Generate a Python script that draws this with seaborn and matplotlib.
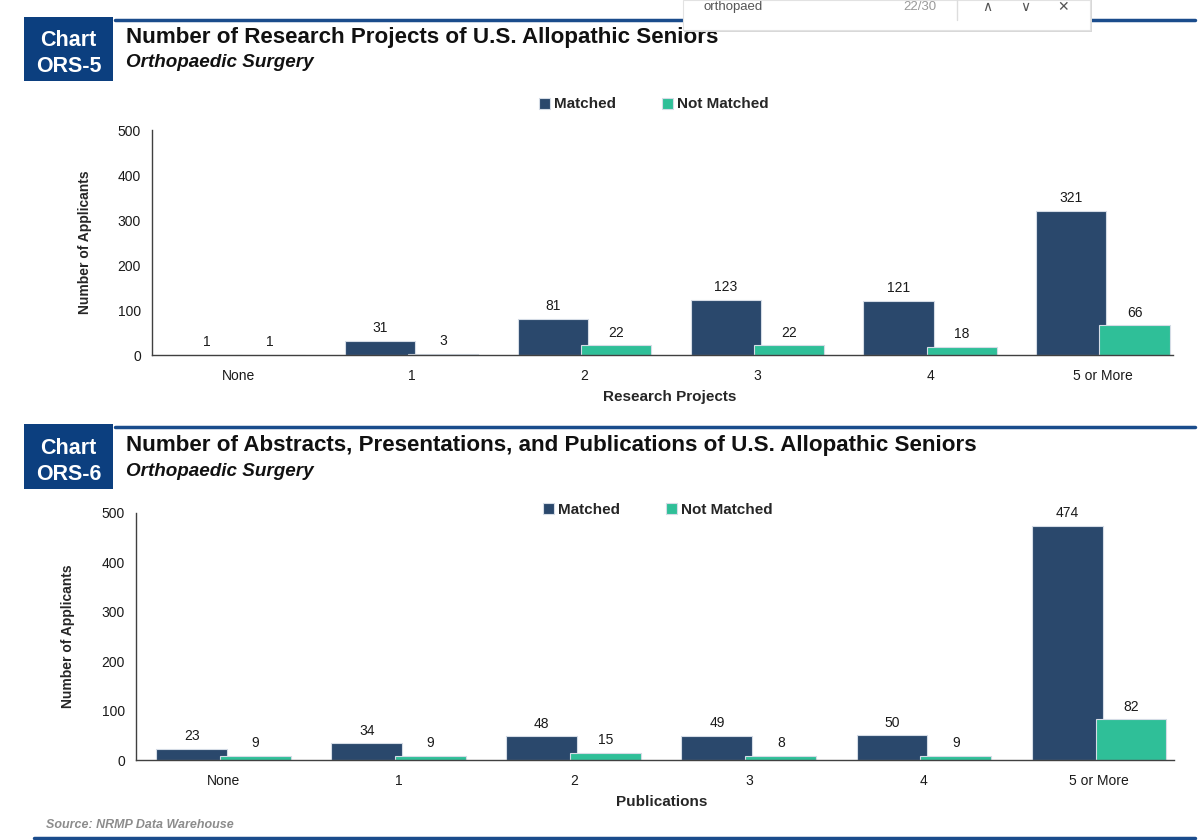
import matplotlib
matplotlib.use("Agg")
import matplotlib.pyplot as plt
from matplotlib.patches import Rectangle
from matplotlib.lines import Line2D
import seaborn as sns
import pandas as pd

# ---------------- data ----------------
categories = ["None", "1", "2", "3", "4", "5 or More"]
series_names = ["Matched", "Not Matched"]
research_matched = [1, 31, 81, 123, 121, 321]
research_not_matched = [1, 3, 22, 22, 18, 66]
pubs_matched = [23, 34, 48, 49, 50, 474]
pubs_not_matched = [9, 9, 15, 8, 9, 82]
y_ticks = [0, 100, 200, 300, 400, 500]

title1 = "Number of Research Projects of U.S. Allopathic Seniors"
title2 = "Number of Abstracts, Presentations, and Publications of U.S. Allopathic Seniors"
subtitle = "Orthopaedic Surgery"
xlabel1 = "Research Projects"
xlabel2 = "Publications"
ylabel = "Number of Applicants"
source = "Source: NRMP Data Warehouse"

NAVY = "#2A486C"
TEAL = "#2FBF98"
BOX = "#0C3F7F"
LINE = "#1A4C8C"
AX = "#404040"

sns.set_theme(style="white")
plt.rcParams["font.family"] = ["Liberation Sans", "DejaVu Sans"]

W, H = 1200, 840
fig = plt.figure(figsize=(12, 8.4), dpi=100)
fig.patch.set_facecolor("white")


def fx(px):
    return px / W


def fy(py):
    return 1 - py / H


def make_df(m, nm):
    return pd.DataFrame({
        "cat": categories * 2,
        "n": list(m) + list(nm),
        "status": [series_names[0]] * len(categories) + [series_names[1]] * len(categories),
    })


def draw_chart(ax, df, xlabel, xr, xlab_pos, ylab_x, leg_pos):
    sns.barplot(data=df, x="cat", y="n", hue="status", order=categories,
                hue_order=series_names, palette=[NAVY, TEAL], width=0.73,
                errorbar=None, edgecolor="#d5dce6", linewidth=0.8, ax=ax,
                saturation=1)
    bw = 0.405
    for cont in ax.containers:
        for p in cont:
            c = p.get_x() + p.get_width() / 2
            p.set_width(bw)
            p.set_x(c - bw / 2)
        ax.bar_label(cont, padding=4, fontsize=10, color="#1a1a1a")
    ax.set_xlim(-0.5, xr)
    ax.set_ylim(0, 500)
    ax.set_yticks(y_ticks)
    ax.set_xlabel(xlabel, fontsize=11, fontweight="bold", va="center")
    ax.set_ylabel(ylabel, fontsize=10, fontweight="bold", va="center")
    ax.xaxis.set_label_coords(*xlab_pos)
    ax.yaxis.set_label_coords(ylab_x, 0.5)
    for s in ["top", "right"]:
        ax.spines[s].set_visible(False)
    for s in ["left", "bottom"]:
        ax.spines[s].set_color(AX)
        ax.spines[s].set_linewidth(1.0)
    ax.tick_params(axis="x", length=0, pad=10, labelsize=10, labelcolor="#1a1a1a")
    ax.tick_params(axis="y", length=0, pad=8, labelsize=10, labelcolor="#1a1a1a")
    sns.move_legend(ax, loc="center", bbox_to_anchor=leg_pos,
                    bbox_transform=fig.transFigure, ncol=2, frameon=False,
                    title=None, fontsize=11, handlelength=0.7, handleheight=0.7,
                    handletextpad=0.3, columnspacing=3.0)
    for t in ax.get_legend().get_texts():
        t.set_fontweight("bold")


ax1 = fig.add_axes([fx(152), fy(355), fx(1173) - fx(152), 225 / H])
draw_chart(ax1, make_df(research_matched, research_not_matched), xlabel1,
           -0.5 + 1021 / 172.9, (0.507, -0.186), -0.066, (fx(654), fy(104.5)))

ax2 = fig.add_axes([fx(136), fy(760), fx(1174) - fx(136), 247 / H])
draw_chart(ax2, make_df(pubs_matched, pubs_not_matched), xlabel2,
           -0.5 + 1038 / 175.1, (0.506, -0.171), -0.0655, (fx(658), fy(509.5)))


def header(box_top, box_bot, line_y, title, num, t_y, s_y, c1_y, c2_y):
    fig.patches.append(Rectangle((fx(24), fy(box_bot)), fx(113) - fx(24),
                                 (box_bot - box_top) / H, transform=fig.transFigure,
                                 facecolor=BOX, edgecolor="none", zorder=1))
    fig.lines.append(Line2D([fx(115), fx(1195)], [fy(line_y)] * 2, transform=fig.transFigure,
                            color=LINE, lw=2.5, zorder=1))
    fig.text(fx(68.5), fy(c1_y), "Chart", color="white", fontsize=15.5,
             fontweight="bold", ha="center", va="center", zorder=2)
    fig.text(fx(68.5), fy(c2_y), num, color="white", fontsize=15.5,
             fontweight="bold", ha="center", va="center", zorder=2)
    fig.text(fx(126), fy(t_y), title, fontsize=16.1, fontweight="bold",
             color="#111111", ha="left", va="center", zorder=2)
    fig.text(fx(126), fy(s_y), subtitle, fontsize=13.6, fontweight="bold",
             fontstyle="italic", color="#111111", ha="left", va="center", zorder=2)


header(16.7, 80.7, 20, title1, "ORS-5", 38, 62.5, 41, 66)
header(424, 489, 426.5, title2, "ORS-6", 446, 471.5, 449, 474)

fig.text(fx(46), fy(825), source, fontsize=9, fontweight="bold", fontstyle="italic",
         color="#8c8c8c", ha="left", va="center")
fig.lines.append(Line2D([fx(34), fx(1195)], [fy(838)] * 2, transform=fig.transFigure,
                        color=LINE, lw=2.5, zorder=1))

# browser find bar overlay seen in the screenshot
fig.patches.append(Rectangle((fx(684), fy(32)), fx(1092) - fx(684), 32 / H,
                             transform=fig.transFigure, facecolor="#d8d8d8",
                             edgecolor="none", zorder=5))
fig.patches.append(Rectangle((fx(683), fy(30)), fx(1090) - fx(683), 30 / H,
                             transform=fig.transFigure, facecolor="white",
                             edgecolor="#e2e2e2", lw=0.8, zorder=6))
fig.lines.append(Line2D([fx(957), fx(957)], [fy(0), fy(20)], transform=fig.transFigure,
                        color="#dddddd", lw=1, zorder=7))
fig.text(fx(703), fy(7), "orthopaed", fontsize=9.5, color="#555555", ha="left",
         va="center", zorder=8)
fig.text(fx(936), fy(7), "22/30", fontsize=9.5, color="#9a9a9a", ha="right",
         va="center", zorder=8)
for xx, s in [(987, "∧"), (1025, "∨"), (1063, "✕")]:
    fig.text(fx(xx), fy(7), s, fontsize=10, color="#555555", ha="center",
             va="center", zorder=8, family=["DejaVu Sans"])

fig.savefig("out.png", dpi=100, facecolor="white")
